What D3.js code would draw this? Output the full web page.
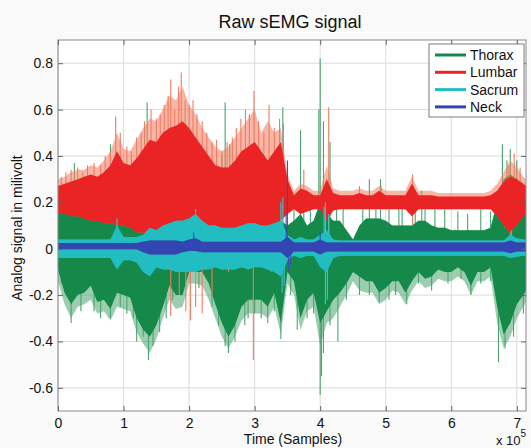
<!DOCTYPE html>
<html>
<head>
<meta charset="utf-8">
<script src="https://cdn.jsdelivr.net/npm/d3@7"></script>
<style>
  body { margin: 0; background: #fbfafa; }
  text { font-family: 'Liberation Sans', Arial, sans-serif; fill: #111; }
</style>
</head>
<body>
<svg id="chart" width="531" height="448"></svg>
<script>
// x positions of the envelope samples, in units of 10^5 samples
const samplePos = [0,0.1,0.2,0.3,0.4,0.5,0.6,0.7,0.8,0.9,1.0,1.1,1.2,1.3,1.4,1.5,1.6,1.7,1.8,1.9,
  2.0,2.1,2.2,2.3,2.4,2.5,2.6,2.7,2.8,2.9,3.0,3.1,3.2,3.3,3.4,3.5,3.6,3.7,3.8,3.9,
  4.0,4.1,4.2,4.3,4.4,4.5,4.6,4.7,4.8,4.9,5.0,5.1,5.2,5.3,5.4,5.5,5.6,5.7,5.8,5.9,
  6.0,6.1,6.2,6.3,6.4,6.5,6.6,6.7,6.8,6.9,7.0,7.1,7.14];

const xTicks = [0,1,2,3,4,5,6,7];
const yTicks = [-0.6,-0.4,-0.2,0,0.2,0.4,0.6,0.8];
const seriesNames = ['Thorax','Lumbar','Sacrum','Neck'];

// Thorax (green): dense core and faint outer fringe
const thoraxHigh = [0.16,0.16,0.15,0.15,0.14,0.14,0.15,0.14,0.15,0.16,0.15,
  0.14,0.13,0.12,0.13,0.12,0.12,0.12,0.11,0.11,0.1,0.1,0.1,0.12,0.11,0.12,0.12,0.11,0.1,0.11,0.11,0.1,0.1,0.11,0.12,
  0.1,0.12,0.15,0.1,0.12,0.2,0.15,0.12,0.12,0.08,0.04,0.1,0.13,0.13,0.13,0.12,0.1,0.1,0.1,0.1,0.12,0.12,0.1,0.09,0.09,
  0.08,0.08,0.08,0.08,0.08,0.08,0.09,0.2,0.3,0.32,0.3,0.26,0.25];
const thoraxLow = [-0.09,-0.19,-0.24,-0.2,-0.19,-0.16,-0.23,-0.22,-0.26,-0.19,-0.2,-0.21,-0.3,-0.35,-0.38,-0.33,-0.25,-0.16,-0.2,-0.2,
  -0.1,-0.1,-0.1,-0.15,-0.24,-0.32,-0.38,-0.33,-0.25,-0.22,-0.22,-0.22,-0.25,-0.19,-0.32,-0.1,-0.14,-0.3,-0.22,-0.19,
  -0.32,-0.27,-0.22,-0.19,-0.15,-0.1,-0.12,-0.14,-0.14,-0.19,-0.17,-0.14,-0.14,-0.19,-0.14,-0.1,-0.13,-0.12,-0.09,-0.1,
  -0.1,-0.08,-0.1,-0.16,-0.1,-0.1,-0.08,-0.25,-0.37,-0.32,-0.24,-0.2,-0.18];
const thoraxOuterLow = [-0.14,-0.24,-0.3,-0.25,-0.24,-0.22,-0.28,-0.27,-0.31,-0.25,-0.26,-0.27,-0.36,-0.41,-0.45,-0.39,-0.3,-0.22,-0.26,-0.25,
  -0.15,-0.15,-0.16,-0.22,-0.3,-0.38,-0.43,-0.38,-0.31,-0.28,-0.28,-0.28,-0.3,-0.25,-0.37,-0.15,-0.2,-0.35,-0.27,-0.25,
  -0.42,-0.32,-0.3,-0.25,-0.2,-0.14,-0.18,-0.19,-0.19,-0.24,-0.22,-0.18,-0.19,-0.24,-0.18,-0.14,-0.17,-0.16,-0.13,-0.14,
  -0.14,-0.12,-0.14,-0.2,-0.14,-0.14,-0.12,-0.32,-0.43,-0.38,-0.3,-0.25,-0.23];
const thoraxSpikes = [[0.25,0.37],[0.5,0.2],[0.8,0.45],[1.1,0.27],[1.36,0.63],[1.58,0.4],[2.3,0.3],[2.5,0.4],[2.55,0.63],
  [2.62,0.45],[2.8,0.35],[3.15,0.3],[3.43,0.61],[3.7,0.51],[3.98,0.6],[4.0,0.82],[4.05,0.55],[4.15,0.46],[4.75,0.3],
  [4.92,0.3],[5.2,0.18],[5.6,0.2],[6.78,0.45],[6.85,0.38],[6.9,0.43],[7.0,0.38],
  [3.6,0.2],[3.75,0.22],[3.85,0.18],[4.25,0.2],[4.35,0.18],[4.65,0.2],[4.85,0.22],[5.05,0.2],[5.25,0.2],[5.45,0.22],
  [5.55,0.25],[5.75,0.18],[5.9,0.17],[6.1,0.16],[6.25,0.15],[6.45,0.17],[6.6,0.16],
  [0.05,-0.15],[0.2,-0.32],[0.35,-0.27],[0.55,-0.27],[0.65,-0.3],[0.8,-0.3],[0.95,-0.25],[1.05,-0.28],[1.15,-0.3],
  [1.2,-0.4],[1.3,-0.38],[1.38,-0.48],[1.45,-0.42],[1.55,-0.36],[1.65,-0.3],[1.75,-0.22],[2.15,-0.17],[2.35,-0.25],
  [2.45,-0.33],[2.55,-0.42],[2.6,-0.45],[2.7,-0.4],[2.85,-0.33],[2.9,-0.3],[3.0,-0.28],[3.1,-0.3],[3.2,-0.32],
  [3.3,-0.27],[3.4,-0.39],[3.55,-0.2],[3.65,-0.35],[3.8,-0.3],[3.9,-0.28],[4.0,-0.63],[4.02,-0.55],[4.05,-0.45],
  [4.15,-0.33],[4.27,-0.4],[4.4,-0.22],[4.6,-0.2],[4.75,-0.2],[4.9,-0.23],[5.05,-0.22],[5.15,-0.2],[5.32,-0.24],
  [5.5,-0.15],[5.7,-0.18],[5.95,-0.15],[6.15,-0.13],[6.3,-0.2],[6.45,-0.15],[6.6,-0.14],[6.72,-0.49],[6.82,-0.43],
  [6.95,-0.38],[7.1,-0.28]];

// Lumbar (red): dense core and faint outer fringe
const lumbarHigh = [0.27,0.28,0.29,0.3,0.31,0.32,0.31,0.33,0.36,0.42,0.37,0.36,0.39,0.43,0.47,0.46,0.5,0.52,0.53,0.55,
  0.52,0.48,0.44,0.4,0.36,0.35,0.35,0.38,0.42,0.44,0.46,0.42,0.38,0.42,0.46,0.3,0.23,0.26,0.25,0.23,
  0.23,0.3,0.24,0.23,0.23,0.23,0.24,0.23,0.23,0.25,0.23,0.23,0.23,0.23,0.28,0.23,0.23,0.23,0.225,0.225,
  0.225,0.225,0.225,0.225,0.225,0.225,0.23,0.25,0.29,0.31,0.3,0.28,0.27];
const lumbarOuterHigh = [0.3,0.31,0.33,0.34,0.34,0.36,0.35,0.38,0.42,0.5,0.43,0.42,0.47,0.52,0.56,0.55,0.6,0.66,0.64,0.7,
  0.62,0.58,0.52,0.48,0.44,0.42,0.44,0.48,0.52,0.56,0.6,0.5,0.55,0.5,0.52,0.32,0.25,0.28,0.27,0.25,
  0.25,0.36,0.26,0.25,0.25,0.25,0.26,0.25,0.25,0.27,0.25,0.25,0.25,0.25,0.31,0.25,0.25,0.25,0.24,0.24,
  0.24,0.24,0.24,0.24,0.24,0.24,0.25,0.28,0.33,0.38,0.35,0.31,0.3];
const lumbarLow = [0.15,0.15,0.14,0.14,0.13,0.12,0.12,0.11,0.11,0.1,0.1,0.09,0.07,0.07,0.06,0.05,0.04,0.05,0.08,0.09,
  0.08,0.08,0.08,0.07,0.07,0.07,0.06,0.06,0.06,0.07,0.07,0.08,0.09,0.1,0.12,0.15,0.17,0.15,0.16,0.17,
  0.17,0.12,0.165,0.17,0.17,0.17,0.17,0.17,0.17,0.17,0.17,0.17,0.17,0.17,0.14,0.17,0.17,0.17,0.17,0.17,
  0.17,0.17,0.17,0.17,0.17,0.17,0.17,0.14,0.1,0.07,0.1,0.14,0.15];
const lumbarSpikes = [[0.05,0.31],[0.12,0.33],[0.2,0.34],[0.3,0.35],[0.38,0.33],[0.45,0.36],[0.55,0.37],[0.65,0.36],
  [0.72,0.4],[0.8,0.42],[0.88,0.57],[0.95,0.5],[1.05,0.44],[1.12,0.42],[1.2,0.48],[1.27,0.5],[1.32,0.55],[1.42,0.6],
  [1.5,0.56],[1.56,0.58],[1.62,0.62],[1.68,0.66],[1.72,0.73],[1.78,0.6],[1.84,0.7],[1.88,0.76],[1.94,0.64],[2.0,0.62],
  [2.06,0.64],[2.12,0.58],[2.2,0.55],[2.27,0.5],[2.35,0.46],[2.42,0.47],[2.5,0.42],[2.58,0.46],[2.66,0.48],[2.72,0.52],
  [2.79,0.56],[2.86,0.6],[2.92,0.58],[2.99,0.68],[3.06,0.55],[3.14,0.5],[3.22,0.62],[3.3,0.52],[3.38,0.56],[3.44,0.54],
  [3.75,0.34],[4.13,0.61],[4.6,0.27],[4.93,0.27],[5.41,0.32],[6.8,0.3],[6.88,0.36],[6.96,0.41],[7.05,0.35],
  [1.45,-0.05],[1.72,-0.29],[1.85,-0.2],[1.95,-0.27],[2.02,-0.31],[2.1,-0.25],[2.2,-0.28],[2.35,-0.2],[2.6,-0.1],
  [2.98,-0.48],[3.25,-0.1],[4.13,0.05],[5.41,0.1],[6.9,0.02]];

// Sacrum (cyan)
const sacrumHigh = [0.04,0.04,0.04,0.04,0.04,0.04,0.04,0.04,0.04,0.1,0.05,0.05,0.05,0.06,0.09,0.08,0.1,0.11,0.12,0.12,
  0.13,0.15,0.12,0.1,0.1,0.09,0.09,0.09,0.1,0.11,0.11,0.1,0.1,0.11,0.12,0.06,0.04,0.05,0.04,0.04,
  0.06,0.08,0.04,0.035,0.035,0.035,0.035,0.035,0.035,0.035,0.035,0.035,0.035,0.035,0.035,0.035,0.035,0.035,0.035,0.035,
  0.035,0.035,0.035,0.035,0.035,0.035,0.035,0.035,0.035,0.06,0.045,0.04,0.04];
const sacrumLow = [-0.04,-0.04,-0.04,-0.04,-0.04,-0.04,-0.04,-0.04,-0.04,-0.09,-0.05,-0.05,-0.06,-0.1,-0.12,-0.08,-0.09,-0.09,-0.1,-0.1,
  -0.1,-0.1,-0.09,-0.09,-0.08,-0.09,-0.09,-0.09,-0.08,-0.09,-0.08,-0.08,-0.09,-0.1,-0.12,-0.05,-0.03,-0.04,-0.03,-0.03,
  -0.08,-0.1,-0.04,-0.03,-0.03,-0.03,-0.03,-0.03,-0.03,-0.03,-0.03,-0.03,-0.03,-0.03,-0.03,-0.03,-0.03,-0.03,-0.03,-0.03,
  -0.03,-0.03,-0.03,-0.03,-0.03,-0.03,-0.03,-0.03,-0.03,-0.04,-0.035,-0.03,-0.03];
const sacrumSpikes = [[0.9,0.13],[2.1,0.17],[3.4,0.2],[3.43,0.22],[3.42,-0.19],[3.45,-0.16],
  [4.06,0.18],[4.08,0.2],[4.08,-0.24],[4.11,-0.22],[4.13,0.15],[6.92,0.08]];

// Neck (blue)
const neckHigh = [0.025,0.025,0.025,0.025,0.025,0.025,0.025,0.025,0.025,0.025,0.025,0.025,0.025,0.03,0.035,0.035,0.035,0.035,0.035,0.03,
  0.04,0.045,0.03,0.03,0.03,0.03,0.03,0.03,0.03,0.03,0.03,0.03,0.03,0.03,0.03,0.05,0.027,0.027,0.027,0.027,
  0.04,0.027,0.027,0.027,0.027,0.027,0.027,0.027,0.027,0.027,0.027,0.027,0.027,0.027,0.027,0.027,0.027,0.027,0.027,0.027,
  0.027,0.027,0.027,0.027,0.027,0.027,0.027,0.027,0.027,0.035,0.027,0.027,0.027];
const neckLow = [-0.002,-0.002,-0.002,-0.002,-0.002,-0.002,-0.002,-0.002,-0.002,-0.002,-0.002,-0.002,-0.002,-0.015,-0.025,-0.025,-0.025,-0.025,-0.025,-0.015,
  -0.01,-0.01,-0.015,-0.015,-0.015,-0.015,-0.015,-0.015,-0.015,-0.015,-0.015,-0.015,-0.015,-0.015,-0.015,-0.04,-0.012,-0.012,-0.012,-0.012,
  -0.025,-0.012,-0.012,-0.012,-0.012,-0.012,-0.012,-0.012,-0.012,-0.012,-0.012,-0.012,-0.012,-0.012,-0.012,-0.012,-0.012,-0.012,-0.012,-0.012,
  -0.012,-0.012,-0.012,-0.012,-0.012,-0.012,-0.012,-0.012,-0.012,-0.02,-0.012,-0.012,-0.012];
const neckSpikes = [[3.5,0.38],[3.48,0.15],[3.52,-0.1],[3.55,-0.07],[2.07,0.07],[4.0,0.07]];

const colors = {Thorax: '#14894a', Lumbar: '#ea2424', Sacrum: '#22bdc1', Neck: '#3345b0'};
const fringeColors = {Thorax: '#4aa46e', Lumbar: '#f27a5e', Sacrum: '#3cc6c8', Neck: '#3a4bb8'};

const margin = {top: 40, right: 5, bottom: 37, left: 58},
      width = 531 - margin.left - margin.right,
      height = 448 - margin.top - margin.bottom;

const svg = d3.select('#chart');
const g = svg.append('g').attr('transform', `translate(${margin.left},${margin.top})`);

const x = d3.scaleLinear().domain([0, 7.14]).range([0, width]);
const y = d3.scaleLinear().domain([-0.7, 0.9]).range([height, 0]);

g.append('rect').attr('width', width).attr('height', height).attr('fill', '#fff');

// grid
g.selectAll('line.gx').data(xTicks).enter().append('line')
  .attr('x1', d => x(d)).attr('x2', d => x(d)).attr('y1', 0).attr('y2', height)
  .attr('stroke', '#dadada').attr('stroke-width', 1);
g.selectAll('line.gy').data(yTicks).enter().append('line')
  .attr('y1', d => y(d)).attr('y2', d => y(d)).attr('x1', 0).attr('x2', width)
  .attr('stroke', '#dadada').attr('stroke-width', 1);

g.append('clipPath').attr('id', 'clip').append('rect').attr('width', width).attr('height', height);
const plot = g.append('g').attr('clip-path', 'url(#clip)');

const series = [
  {name: 'Thorax', high: thoraxHigh, low: thoraxLow, outerHigh: thoraxHigh, outerLow: thoraxOuterLow, spikes: thoraxSpikes},
  {name: 'Lumbar', high: lumbarHigh, low: lumbarLow, outerHigh: lumbarOuterHigh, outerLow: lumbarLow, spikes: lumbarSpikes},
  {name: 'Sacrum', high: sacrumHigh, low: sacrumLow, outerHigh: sacrumHigh, outerLow: sacrumLow, spikes: sacrumSpikes},
  {name: 'Neck',   high: neckHigh,   low: neckLow,   outerHigh: neckHigh,   outerLow: neckLow,   spikes: neckSpikes}
];

series.forEach(s => {
  const sg = plot.append('g');

  // faint fringe made by the thin peaks of the trace
  const outer = d3.area()
    .x((d, i) => x(samplePos[i]))
    .y0((d, i) => y(s.outerLow[i]))
    .y1((d, i) => y(s.outerHigh[i]));
  sg.append('path').datum(samplePos).attr('d', outer)
    .attr('fill', fringeColors[s.name]).attr('fill-opacity', 0.55);

  // thin spikes from the band middle to the peak value
  sg.selectAll('line').data(s.spikes).enter().append('line')
    .attr('x1', d => x(d[0])).attr('x2', d => x(d[0]))
    .attr('y1', d => {
      const i = d3.bisectCenter(samplePos, d[0]);
      return y((s.high[i] + s.low[i]) / 2);
    })
    .attr('y2', d => y(d[1]))
    .attr('stroke', fringeColors[s.name]).attr('stroke-width', 1.1);

  const core = d3.area()
    .x((d, i) => x(samplePos[i]))
    .y0((d, i) => y(s.low[i]))
    .y1((d, i) => y(s.high[i]));
  sg.append('path').datum(samplePos).attr('d', core).attr('fill', colors[s.name]);
});

// frame and inward ticks
g.append('rect').attr('width', width).attr('height', height)
  .attr('fill', 'none').attr('stroke', '#8a8a8a').attr('stroke-width', 1);

const fmt = d => d === 0 ? '0' : d.toFixed(1);

const xAxis = g.append('g').attr('transform', `translate(0,${height})`)
  .call(d3.axisBottom(x).tickValues(xTicks).tickSize(-5).tickPadding(7).tickFormat(d3.format('d')));
const yAxis = g.append('g')
  .call(d3.axisLeft(y).tickValues(yTicks).tickSize(-5).tickPadding(5).tickFormat(fmt));
const topAxis = g.append('g')
  .call(d3.axisTop(x).tickValues(xTicks).tickSize(-5).tickFormat(''));
const rightAxis = g.append('g').attr('transform', `translate(${width},0)`)
  .call(d3.axisRight(y).tickValues(yTicks).tickSize(-5).tickFormat(''));

[xAxis, yAxis, topAxis, rightAxis].forEach(a => {
  a.select('.domain').remove();
  a.selectAll('.tick line').attr('stroke', '#666');
  a.selectAll('text').style('font-size', '14px').attr('fill', '#111')
    .style('font-family', "'Liberation Sans', Arial, sans-serif");
});

// titles
svg.append('text').attr('x', 290).attr('y', 28).attr('text-anchor', 'middle')
  .style('font-size', '18px').text('Raw sEMG signal');
svg.append('text').attr('x', 293).attr('y', 444).attr('text-anchor', 'middle')
  .style('font-size', '14px').text('Time (Samples)');
svg.append('text').attr('transform', 'translate(22,228) rotate(-90)').attr('text-anchor', 'middle')
  .style('font-size', '14px').text('Analog signal in milivolt');
const mult = svg.append('text').attr('x', 496).attr('y', 445).style('font-size', '13px');
mult.append('tspan').text('x 10');
mult.append('tspan').attr('dy', -8).style('font-size', '10px').text('5');

// legend
const legend = svg.append('g').attr('transform', 'translate(429,44)');
legend.append('rect').attr('width', 95).attr('height', 73)
  .attr('fill', '#fff').attr('stroke', '#7a7a7a').attr('stroke-width', 1);
seriesNames.forEach((name, i) => {
  const ly = 11 + i * 17.3;
  legend.append('line').attr('x1', 6).attr('x2', 37).attr('y1', ly).attr('y2', ly)
    .attr('stroke', colors[name]).attr('stroke-width', 3);
  legend.append('text').attr('x', 41).attr('y', ly + 5).style('font-size', '14px').text(name);
});
</script>
</body>
</html>
